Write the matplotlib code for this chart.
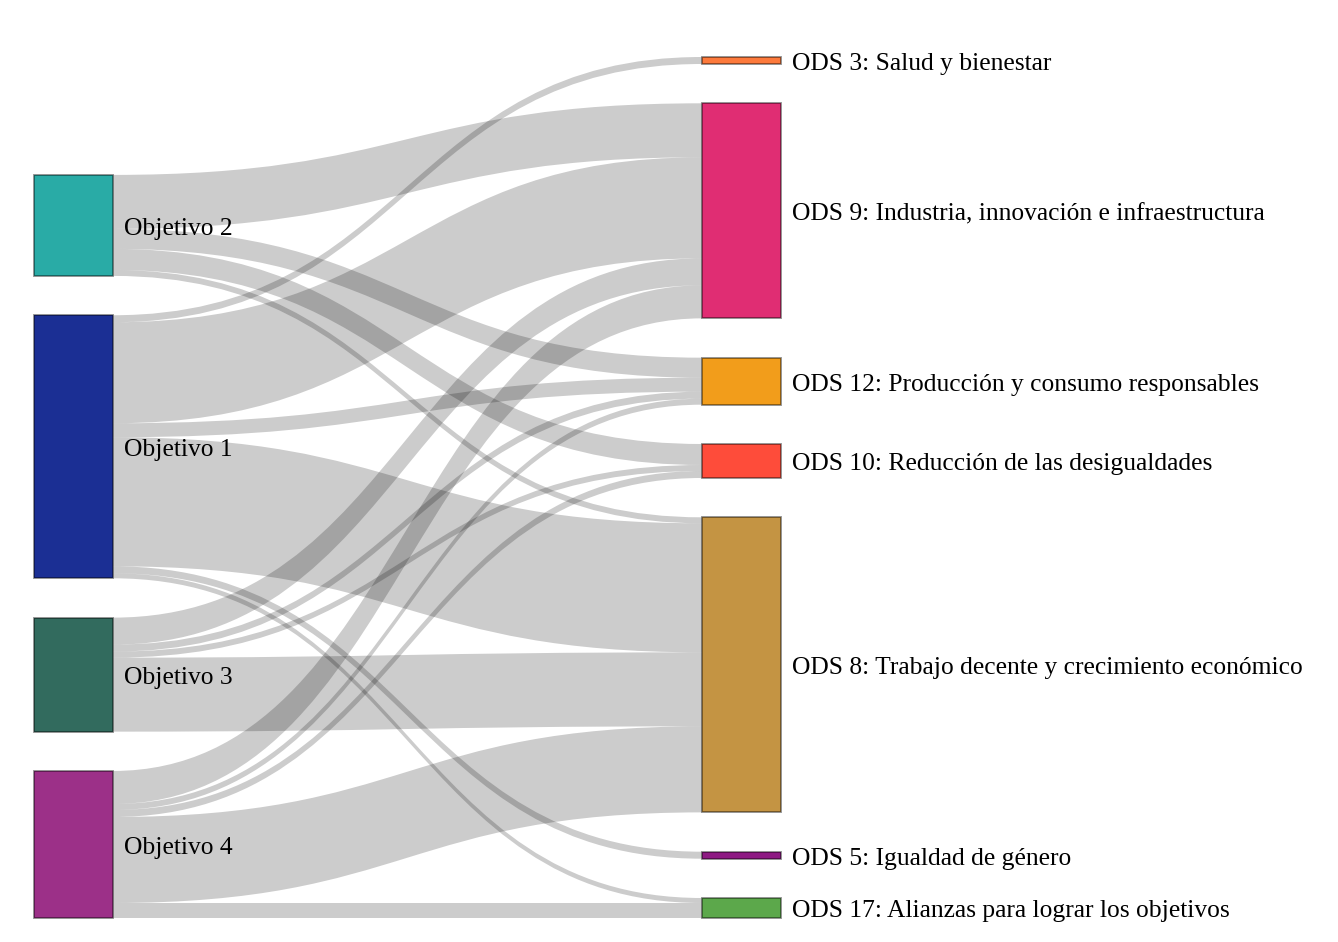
import matplotlib
matplotlib.use("Agg")
import matplotlib.pyplot as plt
from matplotlib.path import Path
from matplotlib.patches import PathPatch, Rectangle

plt.rcParams['font.family'] = ['Liberation Serif', 'DejaVu Serif']

# nodes, in the order they are stacked top to bottom
left_nodes = ["Objetivo 2", "Objetivo 1", "Objetivo 3", "Objetivo 4"]
left_colors = ["#29aba6", "#1b2f94", "#326b5e", "#9c3088"]

right_nodes = ["ODS 3: Salud y bienestar",
               "ODS 9: Industria, innovación e infraestructura",
               "ODS 12: Producción y consumo responsables",
               "ODS 10: Reducción de las desigualdades",
               "ODS 8: Trabajo decente y crecimiento económico",
               "ODS 5: Igualdad de género",
               "ODS 17: Alianzas para lograr los objetivos"]
right_colors = ["#fd7a3c", "#e02d73", "#f29d1b", "#fe4c3a", "#c49443", "#8e1a83", "#5ca84b"]

# links
link_source = ["Objetivo 2", "Objetivo 2", "Objetivo 2", "Objetivo 2",
               "Objetivo 1", "Objetivo 1", "Objetivo 1", "Objetivo 1", "Objetivo 1", "Objetivo 1",
               "Objetivo 3", "Objetivo 3", "Objetivo 3", "Objetivo 3",
               "Objetivo 4", "Objetivo 4", "Objetivo 4", "Objetivo 4", "Objetivo 4"]
link_target = ["ODS 9", "ODS 12", "ODS 10", "ODS 8",
               "ODS 3", "ODS 9", "ODS 12", "ODS 8", "ODS 5", "ODS 17",
               "ODS 9", "ODS 12", "ODS 10", "ODS 8",
               "ODS 9", "ODS 12", "ODS 10", "ODS 8", "ODS 17"]
link_value = [54, 20, 21, 6,
              7, 101, 14, 129, 7, 5,
              27, 7, 6, 74,
              33, 6, 7, 86, 15]

# layout (pixels)
W, H = 1338, 942
top, bottom = 57, 918
gap = 39.3
x_left, x_right, node_w = 34, 702, 79

right_keys = [n.split(":")[0] for n in right_nodes]
tgt_idx = [right_keys.index(t) for t in link_target]
src_idx = [left_nodes.index(s) for s in link_source]

left_tot = [sum(v for s, v in zip(src_idx, link_value) if s == i) for i in range(len(left_nodes))]
right_tot = [sum(v for t, v in zip(tgt_idx, link_value) if t == i) for i in range(len(right_nodes))]

scale = min((bottom - top - gap * (len(c) - 1)) / sum(c) for c in (left_tot, right_tot))


def stack(tots):
    y = bottom - (sum(tots) * scale + gap * (len(tots) - 1))
    pos = []
    for t in tots:
        pos.append(y)
        y += t * scale + gap
    return pos


left_y = stack(left_tot)
right_y = stack(right_tot)

fig = plt.figure(figsize=(W / 100, H / 100), dpi=100)
ax = fig.add_axes([0, 0, 1, 1])
ax.set_xlim(0, W)
ax.set_ylim(H, 0)
ax.axis('off')

# link offsets: at source sorted by target order, at target sorted by source order
order = sorted(range(len(link_value)), key=lambda k: (src_idx[k], tgt_idx[k]))
src_off = {}
cur = list(left_y)
for k in order:
    src_off[k] = cur[src_idx[k]]
    cur[src_idx[k]] += link_value[k] * scale
order = sorted(range(len(link_value)), key=lambda k: (tgt_idx[k], src_idx[k]))
tgt_off = {}
cur = list(right_y)
for k in order:
    tgt_off[k] = cur[tgt_idx[k]]
    cur[tgt_idx[k]] += link_value[k] * scale

x0 = x_left + node_w
x1 = x_right
xm = (x0 + x1) / 2
for k in range(len(link_value)):
    h = link_value[k] * scale
    s0, t0 = src_off[k], tgt_off[k]
    verts = [(x0, s0), (xm, s0), (xm, t0), (x1, t0),
             (x1, t0 + h), (xm, t0 + h), (xm, s0 + h), (x0, s0 + h), (x0, s0)]
    codes = [Path.MOVETO, Path.CURVE4, Path.CURVE4, Path.CURVE4,
             Path.LINETO, Path.CURVE4, Path.CURVE4, Path.CURVE4, Path.CLOSEPOLY]
    ax.add_patch(PathPatch(Path(verts, codes), facecolor=(0, 0, 0, 0.2),
                           edgecolor='none', zorder=1))

label_dy = 3.5
for name, col, y, t in zip(left_nodes, left_colors, left_y, left_tot):
    ax.add_patch(Rectangle((x_left, y), node_w, t * scale, facecolor=col,
                           edgecolor=(0, 0, 0, 0.45), linewidth=1.3, zorder=2))
    ax.text(x_left + node_w + 11, y + t * scale / 2 + label_dy, name, fontsize=18.4,
            va='center', ha='left', color='black', zorder=3)

for name, col, y, t in zip(right_nodes, right_colors, right_y, right_tot):
    ax.add_patch(Rectangle((x_right, y), node_w, t * scale, facecolor=col,
                           edgecolor=(0, 0, 0, 0.45), linewidth=1.3, zorder=2))
    ax.text(x_right + node_w + 11, y + t * scale / 2 + label_dy, name, fontsize=18.4,
            va='center', ha='left', color='black', zorder=3)

fig.savefig("out.png", dpi=100, facecolor='white')
